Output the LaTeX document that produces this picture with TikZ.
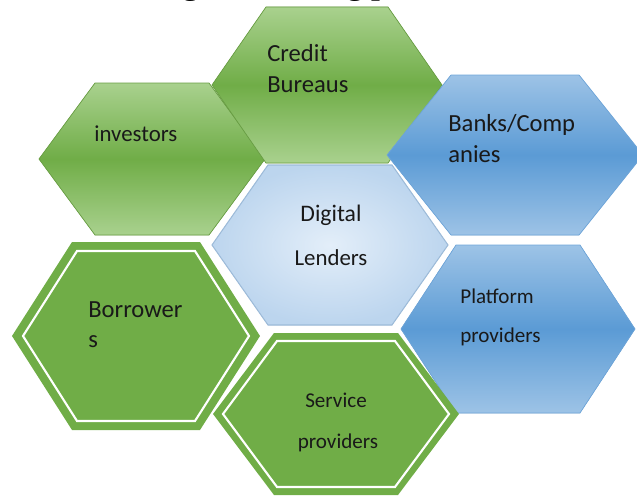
\documentclass[tikz,border=0pt]{standalone}
\usepackage{fontspec}
\setmainfont{Carlito}
\newfontfamily\titlefont{Liberation Serif}
\usetikzlibrary{calc}

\definecolor{leaflight}{HTML}{A9D18E}
\definecolor{leafmid}{HTML}{70AD47}
\definecolor{leafedge}{HTML}{6A9F45}
\definecolor{leafdark}{HTML}{4F7B33}
\definecolor{seablue}{HTML}{9DC3E6}
\definecolor{seamid}{HTML}{5B9BD5}
\definecolor{seaedge}{HTML}{6FA6DA}
\definecolor{seadark}{HTML}{2F5F8E}
\definecolor{icelight}{HTML}{E3EEF9}
\definecolor{iceouter}{HTML}{BCD5EE}
\definecolor{iceedge}{HTML}{9DBBD9}
\definecolor{icedark}{HTML}{8FA7BF}

% hexagon around a centre: (half width : half top edge : half height)
\def\hexcell[#1](#2)(#3:#4:#5){\draw[#1] ($(#2)+(-#3,0)$) -- ($(#2)+(-#4,-#5)$) -- ($(#2)+(#4,-#5)$) -- ($(#2)+(#3,0)$) -- ($(#2)+(#4,#5)$) -- ($(#2)+(-#4,#5)$) -- cycle;}

\tikzset{
  greencell/.style={draw=leafedge, line width=0.4pt, top color=leaflight, bottom color=leaflight, middle color=leafmid},
  bluecell/.style={draw=seaedge, line width=0.4pt, top color=seablue, bottom color=seablue, middle color=seamid},
  palecell/.style={draw=iceedge, line width=0.6pt, inner color=icelight, outer color=iceouter},
  flatcell/.style={fill=leafmid, draw=none},
  flatrim/.style={draw=white, line width=1.2pt, fill=leafmid},
  cellshadow/.style={fill=#1, draw=none, shift={(1,3)}},
  celltext/.style={anchor=base west, inner sep=0pt, text=black!90, font=\fontsize{#1}{#1}\selectfont},
  celltext/.default=14,
  midtext/.style={celltext=#1, anchor=base},
  midtext/.default=13,
}

\begin{document}
\begin{tikzpicture}[x=0.02cm, y=-0.02cm]
		%%%%% START %%%%%
		\useasboundingbox (0, 0) rectangle (637, 497);
		
		% cell centres
		\coordinate (investors) at (152, 159);
		\coordinate (credit) at (327, 85);
		\coordinate (banks) at (515, 155);
		\coordinate (digital) at (330, 245);
		\coordinate (platform) at (518, 329);
		\coordinate (borrowers) at (136, 336);
		\coordinate (service) at (336, 414);
		
		% heading above, cut by the frame
		\begin{scope}
			\clip (0, 0) rectangle (637, 497);
			\node[anchor=base west, inner sep=0pt, font=\titlefont\bfseries\fontsize{18}{18}\selectfont] (heading) at (151, -6) {Digital Lending platform};
		\end{scope}
		
		\hexcell[cellshadow=leafdark](investors)(113:57:76);
		\hexcell[greencell](investors)(113:57:76);
		
		\hexcell[cellshadow=leafdark](credit)(115:61:78);
		\hexcell[greencell](credit)(115:61:78);
		
		\hexcell[cellshadow=seadark](banks)(128:64:80);
		\hexcell[bluecell](banks)(128:64:80);
		
		\hexcell[cellshadow=icedark](digital)(118:62:80);
		\hexcell[palecell](digital)(118:62:80);
		
		\hexcell[cellshadow=seadark](platform)(117:62:84);
		\hexcell[bluecell](platform)(117:62:84);
		
		\hexcell[flatcell](borrowers)(124:64:94);
		\hexcell[flatrim](borrowers)(113:59:85);
		
		\hexcell[flatcell](service)(123:62:81);
		\hexcell[flatrim](service)(113:59:73);
		
		% labels
		\node[celltext=13] (investors-a) at (94, 141) {investors};
		\node[celltext] (credit-a) at (267, 61) {Credit};
		\node[celltext] (credit-b) at (267, 92) {Bureaus};
		\node[celltext] (banks-a) at (448, 132) {Banks/Comp};
		\node[celltext] (banks-b) at (448, 162) {anies};
		\node[midtext=13.5] (digital-a) at (331, 221) {Digital};
		\node[midtext] (digital-b) at (331, 265) {Lenders};
		\node[celltext] (borrowers-a) at (88, 317) {Borrower};
		\node[celltext] (borrowers-b) at (88, 347) {s};
		\node[celltext=12] (platform-a) at (460, 303) {Platform};
		\node[celltext=12] (platform-b) at (460, 342) {providers};
		\node[midtext=12] (service-a) at (336, 407) {Service};
		\node[midtext=12] (service-b) at (338, 448) {providers};
		
		%%%%% END %%%%%
	\end{tikzpicture}
\end{document}
